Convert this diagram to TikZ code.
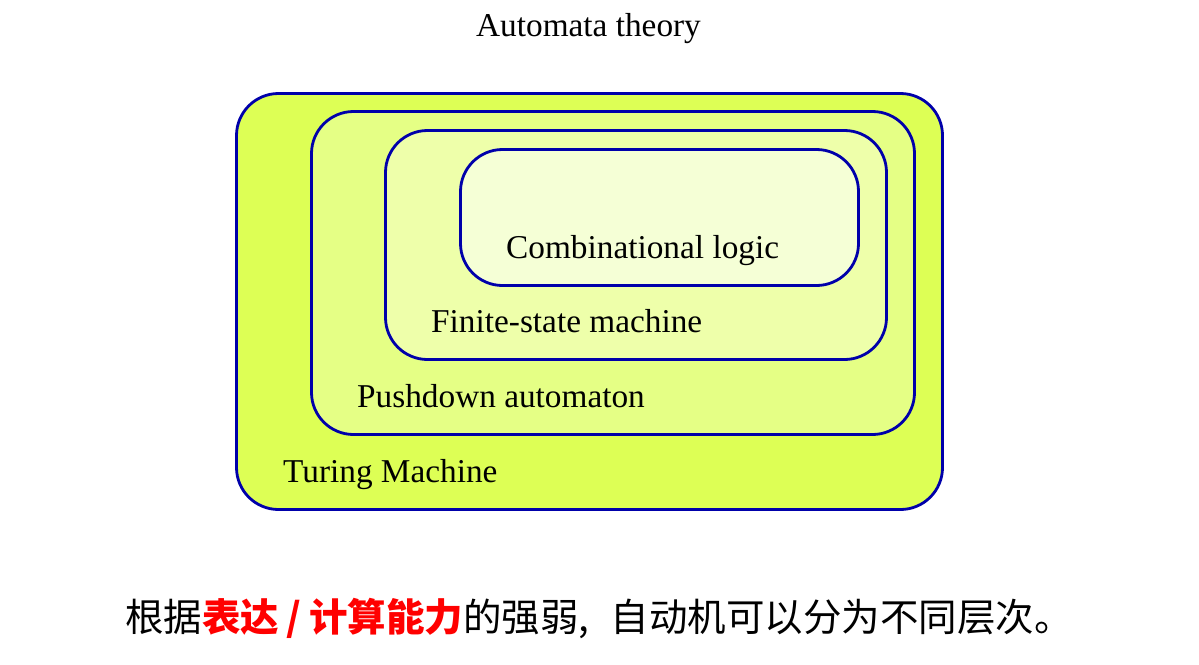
\documentclass[tikz,border=0pt]{standalone}
\usepackage{fontspec}
\setmainfont{Liberation Serif}
\newfontfamily\cjk{Noto Sans CJK SC}
\usepackage{tikz}
\usetikzlibrary{positioning}
\definecolor{rimblue}{RGB}{0,0,170}
\definecolor{tmfill}{RGB}{221,255,85}
\definecolor{pdafill}{RGB}{229,255,133}
\definecolor{fsmfill}{RGB}{238,255,170}
\definecolor{clfill}{RGB}{245,255,214}
\begin{document}
\begin{tikzpicture}[
  x=1pt, y=-1pt,
  box/.style={draw=rimblue, line width=2.8pt, rounded corners=42pt, inner sep=0pt},
  lbl/.style={anchor=base west, inner sep=0pt, font=\fontsize{33.3}{40}\selectfont},
]
\useasboundingbox (0,0) rectangle (1199,664);
% title
\node[lbl, anchor=base] (title) at (588.5,36) {Automata theory};
% nested classes of automata, from the strongest outwards in
\node[box, fill=tmfill,  minimum width=706pt, minimum height=416pt] (tm)  at (589.5,301.5) {};
\node[box, fill=pdafill, minimum width=603pt, minimum height=323pt] (pda) at (613,273) {};
\node[box, fill=fsmfill, minimum width=501pt, minimum height=229pt] (fsm) at (636,245) {};
\node[box, fill=clfill,  minimum width=398pt, minimum height=136pt] (cl)  at (659.5,217.5) {};
% class names, each on a shared left step of 74
\node[lbl] (tmlbl)  at (283,482) {Turing Machine};
\node[lbl] (pdalbl) at (357,407) {Pushdown automaton};
\node[lbl] (fsmlbl) at (431,332) {Finite-state machine};
\node[lbl] (cllbl)  at (506,258) {Combinational logic};
% caption
\node[inner sep=0pt, font=\cjk\fontsize{38.5}{46}\selectfont] (caption) at (599,618)
  {根据\textcolor{red}{\bfseries 表达\hspace{0.2em}/\hspace{0.2em}计算能力}的强弱,\hspace{0.55em}自动机可以分为不同层次。};
\end{tikzpicture}
\end{document}
